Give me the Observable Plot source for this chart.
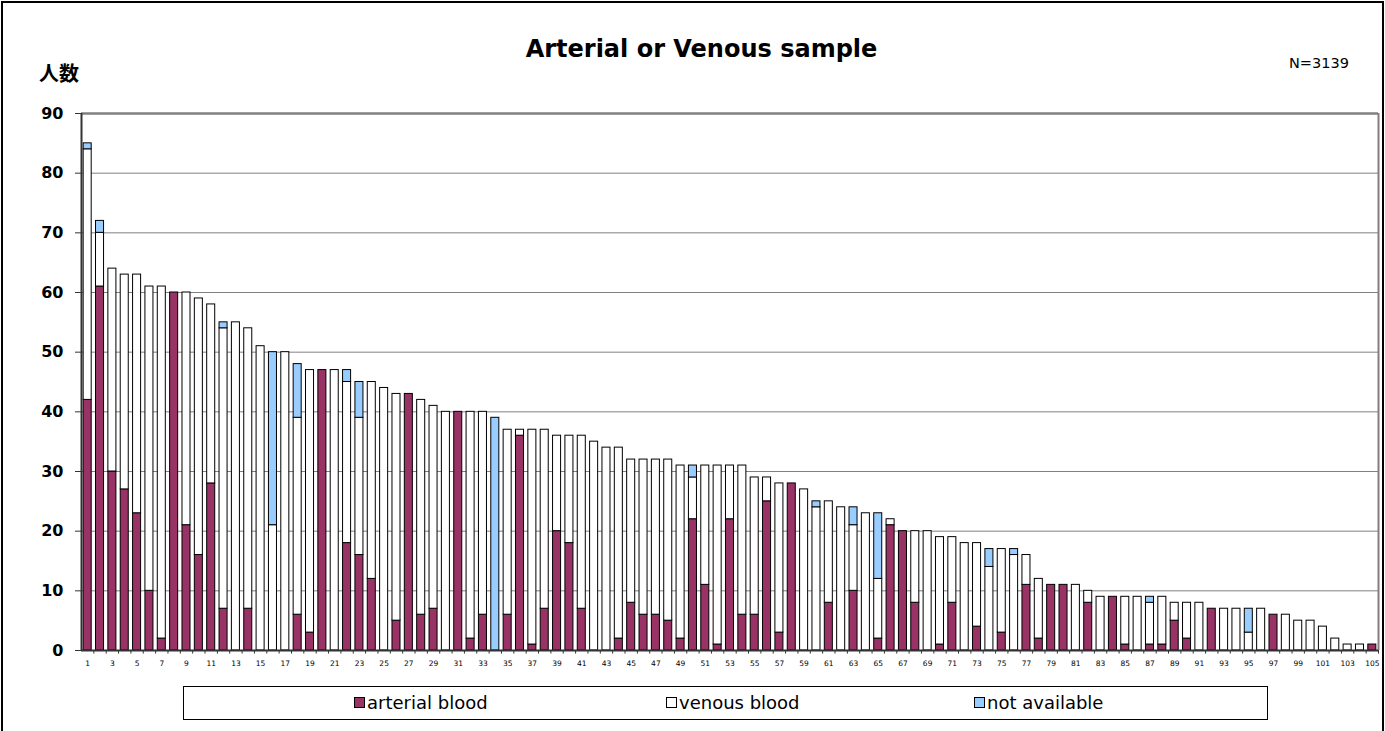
<!DOCTYPE html>
<html>
<head>
<meta charset="utf-8">
<script src="https://cdn.jsdelivr.net/npm/d3@7"></script>
<script src="https://cdn.jsdelivr.net/npm/@observablehq/plot@0.6"></script>
<style>
  html, body { margin: 0; padding: 0; background: #fff; }
  #wrap { position: relative; width: 1385px; height: 731px; overflow: hidden; font-family: "DejaVu Sans", sans-serif; }
  #border { position: absolute; left: 1px; top: 1px; width: 1379px; height: 780px; border: 2px solid #000; }
  #title { position: absolute; left: 9px; width: 1385px; top: 35px; text-align: center; font-weight: bold; font-size: 24px; }
  #ylab { position: absolute; left: 39px; top: 58px; font-family: "Noto Sans CJK JP", sans-serif; font-weight: bold; font-size: 20px; }
  #nlab { position: absolute; left: 1289px; top: 55px; font-size: 14.5px; }
  #plot { position: absolute; left: 0; top: 0; }
  #legend { position: absolute; left: 183px; top: 686px; width: 1083px; height: 32px; border: 1px solid #000; background: #fff; font-size: 18px; }
  .item { position: absolute; top: 5px; white-space: nowrap; }
  .sw { display: inline-block; width: 9px; height: 9px; border: 1px solid #000; margin-right: 2px; vertical-align: 1px; }
</style>
</head>
<body>
<div id="wrap">
  <div id="border"></div>
  <div id="plot"></div>
  <div id="title">Arterial or Venous sample</div>
  <div id="ylab">人数</div>
  <div id="nlab">N=3139</div>
  <div id="legend"></div>
</div>
<script>
const seriesNames = ["arterial blood", "venous blood", "not available"];
const seriesColors = ["#993366", "#ffffff", "#99ccff"];
const yTicks = [0, 10, 20, 30, 40, 50, 60, 70, 80, 90];

const arterial = [42,61,30,27,23,10,2,60,21,16, 28,7,0,7,0,0,0,6,3,47, 0,18,16,12,0,5,43,6,7,0,
  40,2,6,0,6,36,1,7,20,18, 7,0,0,2,8,6,6,5,2,22, 11,1,22,6,6,25,3,28,0,0,
  8,0,10,0,2,21,20,8,0,1, 8,0,4,0,3,0,11,2,11,11, 0,8,0,9,1,0,1,1,5,2,
  0,7,0,0,0,0,6,0,0,0, 0,0,0,0,1];
const venous = [42,9,34,36,40,51,59,0,39,43, 30,47,55,47,51,21,50,33,44,0, 47,27,23,33,44,38,0,36,34,40,
  0,38,34,0,31,1,36,30,16,18, 29,35,34,32,24,26,26,27,29,7, 20,30,9,25,23,4,25,0,27,24,
  17,24,11,23,10,1,0,12,20,18, 11,18,14,14,14,16,5,10,0,0, 11,2,9,0,8,9,7,8,3,6,
  8,0,7,7,3,7,0,6,5,5, 4,2,1,1,0];
const notAvailable = [1,2,0,0,0,0,0,0,0,0, 0,1,0,0,0,29,0,9,0,0, 0,2,6,0,0,0,0,0,0,0,
  0,0,0,39,0,0,0,0,0,0, 0,0,0,0,0,0,0,0,0,2, 0,0,0,0,0,0,0,0,0,1,
  0,0,3,0,11,0,0,0,0,0, 0,0,0,3,0,1,0,0,0,0, 0,0,0,0,0,0,1,0,0,0,
  0,0,0,0,4,0,0,0,0,0, 0,0,0,0,0];
const categories = d3.range(1, 106);

const seriesValues = [arterial, venous, notAvailable];
const rows = [];
categories.forEach((c, i) => {
  seriesValues.forEach((vals, s) => {
    if (vals[i] > 0) rows.push({id: c, series: seriesNames[s], value: vals[i]});
  });
});

const W = 1385, mL = 81, mR = 7;
const step = (W - mL - mR) / categories.length;

const chart = Plot.plot({
  width: W,
  height: 680,
  marginLeft: mL,
  marginRight: mR,
  marginTop: 113,
  marginBottom: 30,
  style: {fontFamily: "DejaVu Sans, sans-serif", background: "transparent", overflow: "visible"},
  x: {type: "band", domain: categories, paddingInner: 0.35, paddingOuter: 0.175, label: null},
  y: {domain: [0, 90], label: null},
  color: {domain: seriesNames, range: seriesColors},
  marks: [
    Plot.ruleY(yTicks, {stroke: "#808080", strokeWidth: 1}),
    Plot.barY(rows, {x: "id", y: "value", fill: "series", stroke: "#000", strokeWidth: 1, order: seriesNames}),
    Plot.ruleY([90], {stroke: "#808080", strokeWidth: 2.5}),
    Plot.ruleX([categories[categories.length - 1]], {dx: step / 2, stroke: "#808080", strokeWidth: 2}),
    Plot.ruleX([categories[0]], {dx: -step / 2, stroke: "#333", strokeWidth: 2}),
    Plot.ruleY([0], {stroke: "#333", strokeWidth: 2}),
    Plot.ruleX(categories, {x: d => d, dx: step / 2, y1: 0, y2: -0.6, stroke: "#333"}),
    Plot.axisY({ticks: yTicks, tickSize: 6, tickPadding: 12, fontSize: 16, fontWeight: "bold", stroke: "#333"}),
    Plot.axisX({ticks: categories.filter(d => d % 2 === 1), tickSize: 0, tickPadding: 10, fontSize: 7.5})
  ]
});
document.getElementById("plot").appendChild(chart);

const legend = document.getElementById("legend");
const lx = [170, 482, 790];
seriesNames.forEach((n, i) => {
  const it = document.createElement("div");
  it.className = "item";
  it.style.left = lx[i] + "px";
  it.innerHTML = `<span class="sw" style="background:${seriesColors[i]}"></span>${n}`;
  legend.appendChild(it);
});
</script>
</body>
</html>
